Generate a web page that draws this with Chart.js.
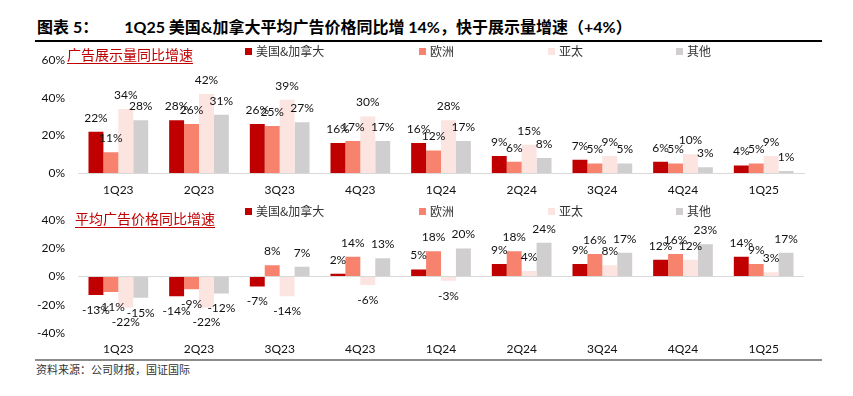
<!DOCTYPE html>
<html><head><meta charset="utf-8">
<script src="https://cdn.jsdelivr.net/npm/chart.js@4"></script>
<style>
html,body{margin:0;padding:0;background:#fff;}
#wrap{position:relative;width:853px;height:396px;overflow:hidden;font-family:"Noto Sans CJK SC",sans-serif;}
.abs{position:absolute;white-space:nowrap;}
#title{left:37px;top:16px;font-size:16px;font-weight:bold;color:#000;font-family:Lato,"Noto Sans CJK SC",sans-serif;line-height:22px;}
#title .b{margin-left:26px;}
#topLine{left:35px;top:40px;width:787px;height:1.5px;background:#000;}
#botLine{left:35px;top:359px;width:787px;height:2px;background:#8c8c8c;}
#source{left:36px;top:361px;font-size:11px;color:#333;line-height:16px;}
.sub{font-size:14px;color:#C00000;text-decoration:underline;text-underline-offset:3px;line-height:18px;}
.leg{font-size:12px;color:#333;line-height:16px;}
.sq{position:absolute;width:7px;height:7px;}
canvas{position:absolute;left:0;}
</style></head>
<body><div id="wrap">
<div id="title" class="abs"><span>图表 5：</span><span class="b">1Q25 美国&amp;加拿大平均广告价格同比增 14%，快于展示量增速（+4%）</span></div>
<div id="topLine" class="abs"></div>
<canvas id="c1" width="853" height="160" style="top:40px;width:853px;height:160px;"></canvas>
<canvas id="c2" width="853" height="160" style="top:200px;width:853px;height:160px;"></canvas>
<div id="sub1" class="abs sub" style="left:67px;top:45px;">广告展示量同比增速</div>
<div id="sub2" class="abs sub" style="left:75px;top:209px;">平均广告价格同比增速</div>
<div id="botLine" class="abs"></div>
<div id="source" class="abs">资料来源：公司财报，国证国际</div>
</div>
<script>
// ---- data ----
const categories = ['1Q23','2Q23','3Q23','4Q23','1Q24','2Q24','3Q24','4Q24','1Q25'];
const seriesNames = ['美国&加拿大','欧洲','亚太','其他'];
const seriesColors = ['#C00000','#F7836F','#FCE4E0','#D0CECE'];

// 广告展示量同比增速 (%)
const impUSCA  = [22,28,26,16,16,9,7,6,4];
const impEU    = [11,26,25,17,12,6,5,5,5];
const impAPAC  = [34,42,39,30,28,15,9,10,9];
const impOther = [28,31,27,17,17,8,5,3,1];

// 平均广告价格同比增速 (%)
const priceUSCA  = [-13,-14,-7,2,5,9,9,12,14];
const priceEU    = [-11,-9,8,14,18,18,16,16,9];
const priceAPAC  = [-22,-22,-14,-6,-3,4,8,12,3];
const priceOther = [-15,-12,7,13,20,24,17,23,17];

const topTicks = [0,20,40,60];
const botTicks = [-40,-20,0,20,40];

// ---- legends ----
const legendX = [245,419,548,676];
function addLegend(top){
  const wrap = document.getElementById('wrap');
  seriesNames.forEach((n,i)=>{
    const sq = document.createElement('div');
    sq.className='sq';
    sq.style.left = legendX[i]+'px'; sq.style.top=(top-3.5)+'px';
    sq.style.background = seriesColors[i];
    wrap.appendChild(sq);
    const t = document.createElement('div');
    t.className='abs leg';
    t.style.left=(legendX[i]+11)+'px'; t.style.top=(top-8)+'px';
    t.textContent = n;
    wrap.appendChild(t);
  });
}
addLegend(51);
addLegend(211);

const FONT = 'Lato, "Liberation Sans", sans-serif';

const labelPlugin = {
  id:'barLabels',
  afterDatasetsDraw(chart){
    const ctx = chart.ctx;
    ctx.save();
    ctx.font = '12px ' + FONT;
    ctx.fillStyle = '#111';
    ctx.textAlign='center'; ctx.textBaseline='middle';
    chart.data.datasets.forEach((ds,i)=>{
      const meta = chart.getDatasetMeta(i);
      meta.data.forEach((el,j)=>{
        const v = ds.data[j];
        const y = v>=0 ? el.y-14 : el.y+15;
        ctx.fillText(v+'%', el.x, y);
      });
    });
    ctx.restore();
  }
};

function makeChart(id, seriesData, ticks, topPad, xPad, zeroGrid){
  return new Chart(document.getElementById(id), {
    type:'bar',
    data:{
      labels:categories,
      datasets: seriesData.map((d,i)=>({
        label:seriesNames[i], data:d, backgroundColor:seriesColors[i],
        borderWidth:0, categoryPercentage:0.74, barPercentage:1.0
      }))
    },
    options:{
      responsive:false, animation:false,
      layout:{padding:{left:0,right:49,top:topPad,bottom:0}},
      plugins:{legend:{display:false},tooltip:{enabled:false}},
      scales:{
        x:{
          grid:{display:false,drawTicks:false},
          border:{display:!zeroGrid,color:'#D9D9D9',width:1},
          ticks:{padding:xPad,color:'#111',font:{family:FONT,size:12},maxRotation:0},
          afterFit(s){ s.height = 27; }
        },
        y:{
          min:ticks[0], max:ticks[ticks.length-1],
          afterBuildTicks(s){ s.ticks = ticks.map(v=>({value:v})); },
          grid:{display:zeroGrid,drawTicks:false,
                color:c=> (c.tick && c.tick.value===0) ? '#D9D9D9' : 'rgba(0,0,0,0)'},
          border:{display:false},
          ticks:{padding:13,color:'#111',font:{family:FONT,size:12},callback:v=>v+'%'},
          afterFit(s){ s.width = 78; }
        }
      }
    },
    plugins:[labelPlugin]
  });
}

makeChart('c1',[impUSCA,impEU,impAPAC,impOther],topTicks,13,10,false);
makeChart('c2',[priceUSCA,priceEU,priceAPAC,priceOther],botTicks,10,9,true);
</script>
</body></html>
